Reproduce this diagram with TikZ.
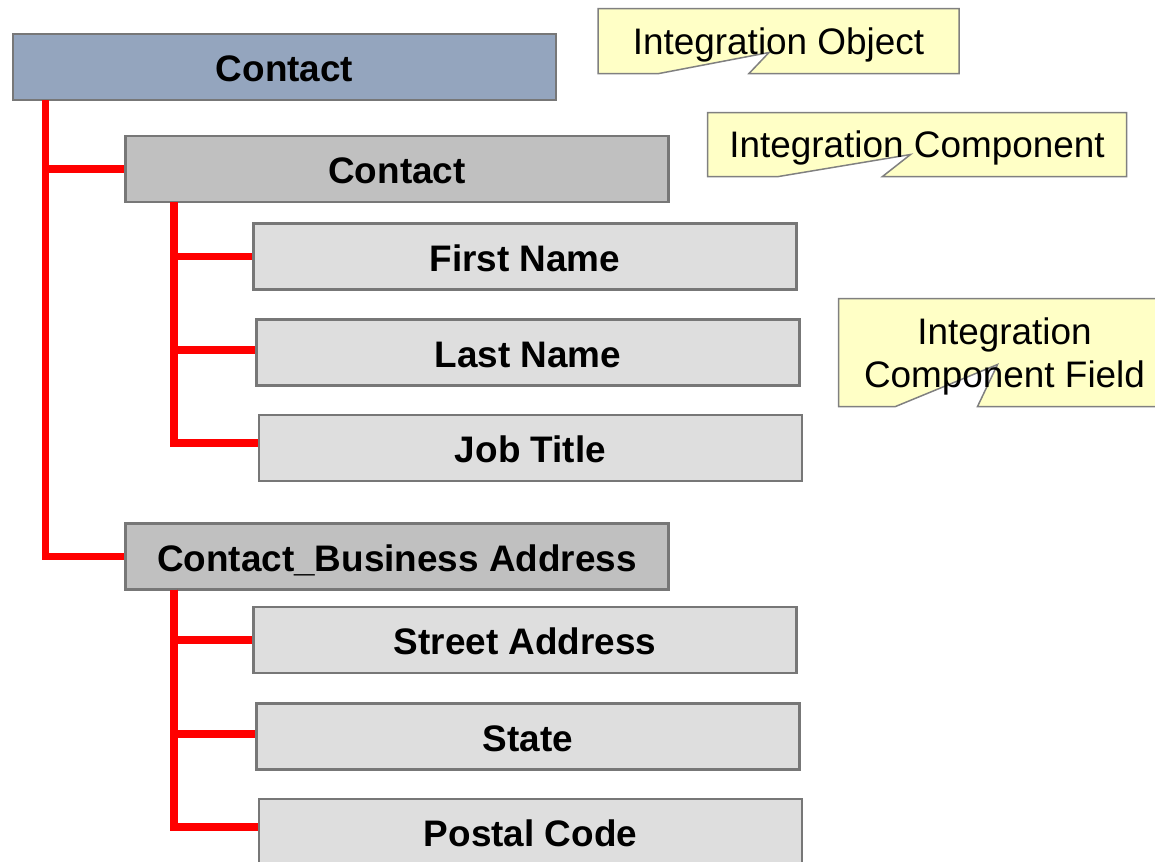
\documentclass[tikz,border=0pt]{standalone}
\usepackage{fontspec}
\setmainfont{Liberation Sans}
\usepackage{xcolor}
\usepackage{tikz}
\usetikzlibrary{positioning,backgrounds}

\definecolor{objblue}{HTML}{94A5BE}
\definecolor{compgray}{HTML}{C0C0C0}
\definecolor{fieldgray}{HTML}{DEDEDE}
\definecolor{edgegray}{HTML}{777777}
\definecolor{noteyellow}{HTML}{FFFFC6}

\begin{document}
\begin{tikzpicture}[
  obj/.style={draw=edgegray, line width=0.045cm, fill=objblue, minimum width=10.86cm, minimum height=1.32cm, inner sep=0pt, outer sep=0pt, text height=17pt, text depth=0pt, font=\fontsize{21}{25}\selectfont\bfseries},
  comp/.style={obj, fill=compgray},
  field/.style={obj, fill=fieldgray},
  branch/.style={red, line width=0.15cm, shorten >=0.025cm},
  notetext/.style={inner sep=0pt, outer sep=0pt, align=center, text depth=0pt, font=\fontsize{21}{24.5}\selectfont},
  note/.style={draw=gray, line width=0.03cm, fill=noteyellow}
]
  \useasboundingbox (0,0) rectangle (23.1,-17.22);

  % Integration object
  \node[obj] (contactobj) at (5.69,-1.34) {Contact};

  % First component and its fields
  \node[comp, below=0.72cm of contactobj, xshift=2.25cm] (contactcomp) {Contact};
  \node[field, below=0.43cm of contactcomp, xshift=2.56cm] (firstname) {First Name};
  \node[field, below=0.6cm of firstname, xshift=0.06cm] (lastname) {Last Name};
  \node[field, below=0.59cm of lastname, xshift=0.05cm] (jobtitle) {Job Title};

  % Second component and its fields
  \node[comp, below=0.85cm of jobtitle, xshift=-2.67cm] (addrcomp) {Contact\_Business Address};
  \node[field, below=0.35cm of addrcomp, xshift=2.56cm] (street) {Street Address};
  \node[field, below=0.61cm of street, xshift=0.06cm] (state) {State};
  \node[field, below=0.59cm of state, xshift=0.05cm] (postal) {Postal Code};

  % Tree lines
  \draw[branch] ([xshift=0.65cm]contactobj.south west) |- (contactcomp.west);
  \draw[branch] ([xshift=0.65cm]contactobj.south west) |- (addrcomp.west);
  \draw[branch] ([xshift=0.97cm]contactcomp.south west) |- (firstname.west);
  \draw[branch] ([xshift=0.97cm]contactcomp.south west) |- ([yshift=0.05cm]lastname.west);
  \draw[branch] ([xshift=0.97cm]contactcomp.south west) |- ([yshift=0.1cm]jobtitle.west);
  \draw[branch] ([xshift=0.97cm]addrcomp.south west) |- (street.west);
  \draw[branch] ([xshift=0.97cm]addrcomp.south west) |- ([yshift=0.05cm]state.west);
  \draw[branch] ([xshift=0.97cm]addrcomp.south west) |- ([yshift=0.1cm]postal.west);

  % Callouts
  \node[notetext, minimum width=7.22cm, minimum height=1.3cm] (objnote) at (15.57,-0.82) {Integration Object};
  \node[notetext, minimum width=8.38cm, minimum height=1.28cm] (compnote) at (18.34,-2.89) {Integration Component};
  \node[notetext, minimum width=6.64cm, minimum height=2.16cm] (fieldnote) at (20.09,-7.05) {Integration\\Component Field};

  \begin{scope}[on background layer]
    \draw[note] (objnote.north west) -- (objnote.north east) -- (objnote.south east)
      -- ([xshift=3.02cm]objnote.south west) -- ([xshift=3.42cm,yshift=0.42cm]objnote.south west)
      -- ([xshift=1.22cm]objnote.south west) -- (objnote.south west) -- cycle;
    \draw[note] (compnote.north west) -- (compnote.north east) -- (compnote.south east)
      -- ([xshift=3.5cm]compnote.south west) -- ([xshift=4.06cm,yshift=0.44cm]compnote.south west)
      -- ([xshift=1.42cm]compnote.south west) -- (compnote.south west) -- cycle;
    \draw[note] (fieldnote.north west) -- (fieldnote.north east) -- (fieldnote.south east)
      -- ([xshift=2.78cm]fieldnote.south west) -- ([xshift=3.18cm,yshift=0.84cm]fieldnote.south west)
      -- ([xshift=1.14cm]fieldnote.south west) -- (fieldnote.south west) -- cycle;
  \end{scope}
\end{tikzpicture}
\end{document}
